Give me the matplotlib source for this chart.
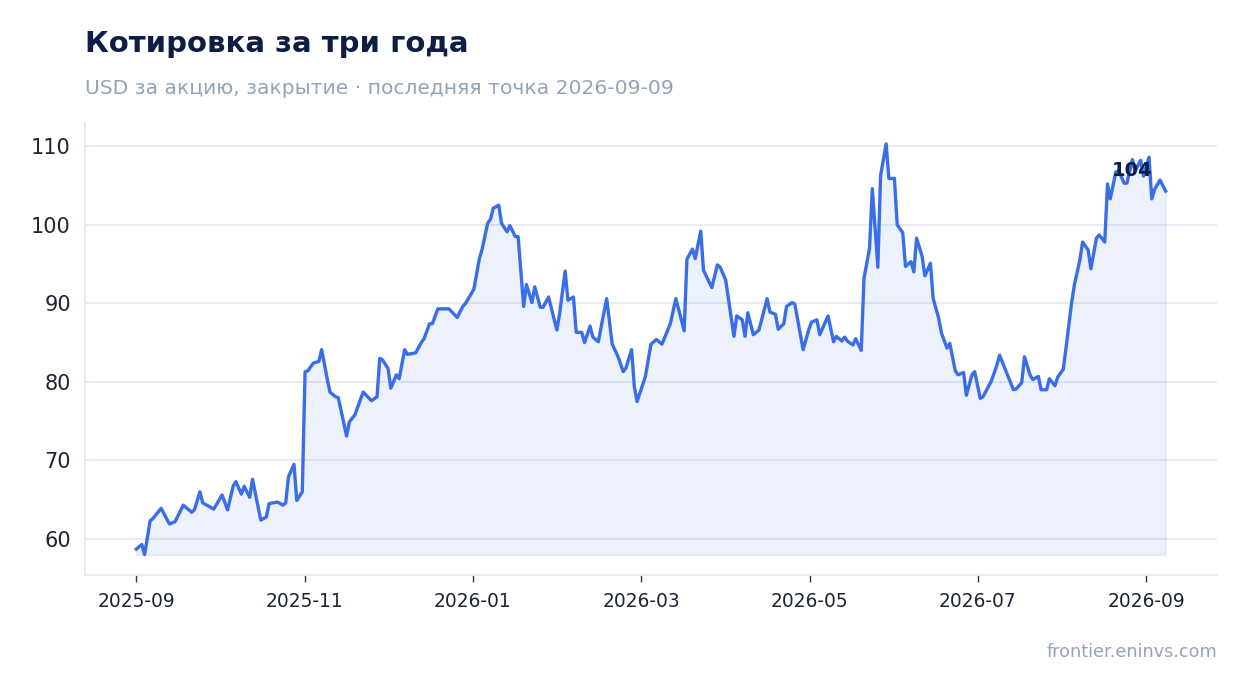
import pandas as pd
import matplotlib
matplotlib.use('Agg')
import matplotlib.pyplot as plt

# ------------------------------------------------------------
# Данные: дни от 2025-09-01 и цена закрытия (USD)
# ------------------------------------------------------------
START = '2025-09-01'

day_offsets = [
    0, 2, 3, 5, 6, 9, 12, 14, 17, 20, 21, 23, 24, 28, 31, 33, 35, 36, 38, 39,
    41, 42, 45, 47, 48, 51, 53, 54, 55, 57, 58, 60, 61, 62, 64, 66, 67, 69, 70, 72,
    73, 76, 77, 79, 82, 85, 87, 88, 89, 91, 92, 94, 95, 97, 98, 101, 103, 104, 106, 107,
    109, 113, 116, 118, 119, 122, 124, 125, 127, 128, 129, 131, 132, 134, 135, 137, 138, 140, 141, 143,
    144, 146, 147, 149, 152, 153, 155, 156, 158, 159, 161, 162, 164, 165, 167, 168, 170, 172, 174, 176,
    177, 179, 180, 181, 184, 186, 188, 190, 193, 195, 198, 199, 201, 202, 204, 205, 208, 210, 211, 213,
    216, 217, 219, 220, 221, 223, 225, 226, 228, 229, 231, 232, 234, 235, 237, 238, 241, 243, 244, 246,
    247, 250, 252, 253, 255, 256, 257, 259, 260, 262, 263, 265, 266, 268, 269, 271, 272, 274, 275, 277,
    278, 280, 281, 282, 284, 285, 287, 288, 290, 291, 293, 294, 296, 297, 299, 300, 302, 303, 305, 306,
    309, 311, 312, 317, 318, 320, 321, 323, 324, 326, 327, 329, 330, 332, 333, 335, 336, 338, 339, 341,
    342, 344, 345, 347, 348, 350, 351, 352, 354, 355, 357, 358, 360, 361, 363, 364, 366, 367, 368, 370,
    372,
]

close_prices = [
    58.7, 59.3, 58.0, 62.3, 62.6, 63.9, 61.9, 62.2, 64.3, 63.4, 63.7, 66.0, 64.6, 63.8, 65.6, 63.7, 66.7, 67.3, 65.7, 66.7,
    65.3, 67.6, 62.4, 62.8, 64.5, 64.7, 64.3, 64.6, 67.9, 69.5, 64.9, 66.0, 81.3, 81.4, 82.4, 82.6, 84.1, 80.4, 78.7, 78.1,
    78.0, 73.1, 74.9, 75.8, 78.7, 77.6, 78.1, 83.0, 82.8, 81.7, 79.2, 80.9, 80.4, 84.1, 83.5, 83.7, 85.0, 85.5, 87.4, 87.4,
    89.3, 89.3, 88.2, 89.6, 90.0, 91.8, 95.7, 96.9, 100.2, 100.7, 102.1, 102.5, 100.2, 99.1, 99.9, 98.5, 98.5, 89.6, 92.4, 90.1,
    92.1, 89.5, 89.5, 90.8, 86.6, 88.7, 94.1, 90.4, 90.8, 86.3, 86.3, 85.0, 87.1, 85.7, 85.1, 87.0, 90.6, 84.8, 83.3, 81.3,
    81.8, 84.1, 79.4, 77.5, 80.7, 84.8, 85.4, 84.8, 87.4, 90.6, 86.5, 95.6, 96.9, 95.7, 99.2, 94.2, 92.0, 94.9, 94.6, 93.0,
    85.8, 88.4, 87.9, 85.8, 88.8, 86.0, 86.6, 87.9, 90.6, 88.9, 88.6, 86.7, 87.4, 89.6, 90.1, 89.9, 84.1, 86.6, 87.6, 87.9,
    86.0, 88.4, 85.1, 85.8, 85.2, 85.7, 85.2, 84.7, 85.5, 84.0, 93.2, 97.0, 104.6, 94.6, 106.3, 110.3, 105.9, 105.9, 100.0, 99.0,
    94.7, 95.3, 94.0, 98.3, 96.0, 93.5, 95.1, 90.6, 88.1, 86.2, 84.3, 84.9, 81.4, 80.9, 81.2, 78.3, 80.9, 81.3, 77.9, 78.1,
    80.1, 82.1, 83.4, 79.0, 79.1, 79.9, 83.2, 80.9, 80.3, 80.7, 79.0, 79.0, 80.4, 79.5, 80.6, 81.6, 84.3, 90.0, 92.3, 95.5,
    97.8, 96.8, 94.4, 98.3, 98.7, 97.8, 105.2, 103.3, 106.7, 106.9, 105.3, 105.3, 108.3, 106.9, 108.2, 106.2, 108.6, 103.3, 104.5, 105.7,
    104.3,
]

tick_labels = ['2025-09', '2025-11', '2026-01', '2026-03', '2026-05', '2026-07', '2026-09']

dates = pd.to_datetime(START) + pd.to_timedelta(day_offsets, unit='D')

TITLE = 'Котировка за три года'
SUBTITLE = 'USD за акцию, закрытие · последняя точка 2026-09-09'
SOURCE = 'frontier.eninvs.com'

LINE_COLOR = '#3a6ee8'
GRID_COLOR = '#e3e8f2'
TEXT_DARK = '#0f1d45'
TEXT_GRAY = '#94a3b8'

# ------------------------------------------------------------
# График
# ------------------------------------------------------------
fig = plt.figure(figsize=(12.47, 6.93), dpi=100)
ax = fig.add_axes([0.068, 0.170, 0.908, 0.652])

ax.fill_between(dates, close_prices, min(close_prices), color=LINE_COLOR, alpha=0.09, linewidth=1.5)
ax.plot(dates, close_prices, color=LINE_COLOR, linewidth=2.4, solid_joinstyle='round')

ax.annotate(f'{close_prices[-1]:.0f}', xy=(dates[-1], close_prices[-1]),
            xytext=(-24, 15), textcoords='offset points',
            ha='center', va='center', fontsize=14, fontweight='bold', color=TEXT_DARK)

# деления оси X: равные шаги в шестую часть года
tick_dates = [pd.to_datetime(START) + pd.Timedelta(days=365 * k / 6) for k in range(len(tick_labels))]
ax.set_xticks(tick_dates)
ax.set_xticklabels(tick_labels)
ax.set_yticks([60, 70, 80, 90, 100, 110])

ax.grid(axis='y', color=GRID_COLOR, linewidth=1.2)
ax.grid(axis='x', visible=False)
ax.set_axisbelow(True)

for side in ['top', 'right']:
    ax.spines[side].set_visible(False)
for side in ['left', 'bottom']:
    ax.spines[side].set_color('#e3e8f2')
    ax.spines[side].set_linewidth(1.2)

ax.tick_params(axis='y', length=0, labelsize=15, labelcolor='#1e2433', pad=10)
ax.tick_params(axis='x', length=5, width=1, color='#333a47', labelsize=13.4, labelcolor='#1e2433', pad=7)

fig.text(0.068, 1 - 44 / 693, TITLE, fontsize=21, fontweight='bold', color=TEXT_DARK, ha='left', va='center')
fig.text(0.068, 1 - 88 / 693, SUBTITLE, fontsize=14.6, color=TEXT_GRAY, ha='left', va='center')
fig.text(0.976, 1 - 652 / 693, SOURCE, fontsize=12.7, color=TEXT_GRAY, ha='right', va='center')

fig.savefig('out.png', dpi=100)
